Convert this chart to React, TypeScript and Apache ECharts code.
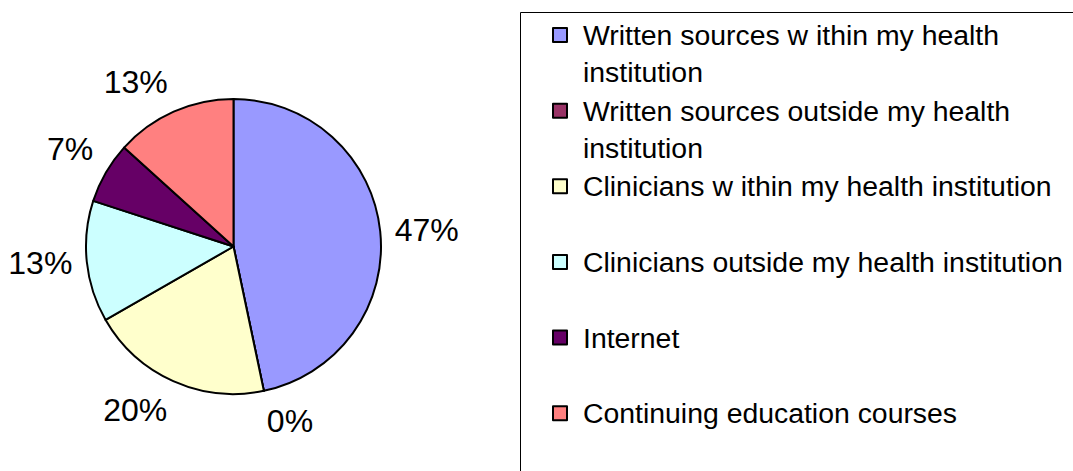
import React, { useEffect, useRef } from "react";
import * as echarts from "echarts";

const categories = [
  "Written sources w ithin my health institution",
  "Written sources outside my health institution",
  "Clinicians w ithin my health institution",
  "Clinicians outside my health institution",
  "Internet",
  "Continuing education courses",
];
const shares = [46.7, 0, 20, 13.3, 6.7, 13.3];
const sliceColors = ["#9999FF", "#993366", "#FFFFCC", "#CCFFFF", "#660066", "#FF8080"];

const FONT = "'Liberation Sans', Arial, Helvetica, sans-serif";
const CX = 233.5;
const CY = 246.5;
const RADIUS = 147.5;
const LABEL_R = 162;
const LEGEND_FS = 28.4;
const LEGEND_LH = 37;
const LEGEND_TEXT_W = 500;

function wrapText(text: string, maxW: number): string[] {
  const cv = document.createElement("canvas");
  const ctx = cv.getContext("2d")!;
  ctx.font = `${LEGEND_FS}px ${FONT}`;
  const words = text.split(" ");
  const lines: string[] = [];
  let cur = "";
  for (const w of words) {
    const t = cur ? cur + " " + w : w;
    if (ctx.measureText(t).width > maxW && cur) {
      lines.push(cur);
      cur = w;
    } else cur = t;
  }
  if (cur) lines.push(cur);
  return lines;
}

export default function App() {
  const ref = useRef<HTMLDivElement>(null);
  useEffect(() => {
    document.body.style.margin = "0";
    const chart = echarts.init(ref.current!, undefined, { renderer: "svg" });
    const total = shares.reduce((a, b) => a + b, 0);

    const legends = categories.map((name, i) => {
      const lines = wrapText(name, LEGEND_TEXT_W);
      const n = lines.length;
      const markerY = 35 + 75.65 * i;
      // blank lines on top keep the first text line level with the marker
      const shown = [...new Array(n - 1).fill(""), ...lines];
      const totalH = shown.length * LEGEND_LH;
      return {
        data: [name],
        orient: "vertical",
        left: 552,
        top: markerY - totalH / 2,
        padding: 0,
        itemWidth: 14,
        itemHeight: 14,
        icon: "rect",
        selectedMode: false,
        itemStyle: { borderColor: "#000", borderWidth: 2 },
        formatter: () => shown.join("\n"),
        textStyle: {
          fontSize: LEGEND_FS,
          lineHeight: LEGEND_LH,
          fontFamily: FONT,
          color: "#000",
          padding: [0, 0, 0, 11],
        },
      };
    });

    chart.setOption({
      animation: false,
      backgroundColor: "#fff",
      graphic: [
        {
          type: "rect",
          z: -1,
          shape: { x: 520.5, y: 12.5, width: 700, height: 600 },
          style: { fill: "none", stroke: "#000", lineWidth: 1 },
        },
      ],
      legend: legends,
      series: [
        {
          type: "pie",
          center: [CX, CY],
          radius: RADIUS,
          startAngle: 90,
          clockwise: true,
          percentPrecision: 0,
          avoidLabelOverlap: false,
          data: categories.map((name, i) => ({
            name,
            value: shares[i],
            itemStyle: { color: sliceColors[i] },
          })),
          itemStyle: { borderColor: "#000", borderWidth: 2 },
          emphasis: { disabled: true },
          label: {
            show: true,
            position: "outside",
            overflow: "none",
            bleedMargin: 0,
            formatter: (p: any) => `${Math.round(p.percent)}%`,
            fontSize: 32,
            fontFamily: FONT,
            color: "#000",
          },
          labelLine: { show: false, length: 10, length2: 0 },
          labelLayout: (params: any) => {
            const i = params.dataIndex;
            let before = 0;
            for (let k = 0; k < i; k++) before += shares[k];
            const mid = ((before + shares[i] / 2) / total) * Math.PI * 2;
            const dx = Math.sin(mid);
            const dy = -Math.cos(mid);
            return {
              x: CX + LABEL_R * dx,
              y: CY + LABEL_R * dy,
              width: 120,
              align: dx >= 0 ? "left" : "right",
              verticalAlign: Math.abs(dy) < 0.35 ? "middle" : dy > 0 ? "top" : "bottom",
            };
          },
        },
      ],
    });
    return () => chart.dispose();
  }, []);
  return <div ref={ref} style={{ width: 1073, height: 471 }} />;
}
